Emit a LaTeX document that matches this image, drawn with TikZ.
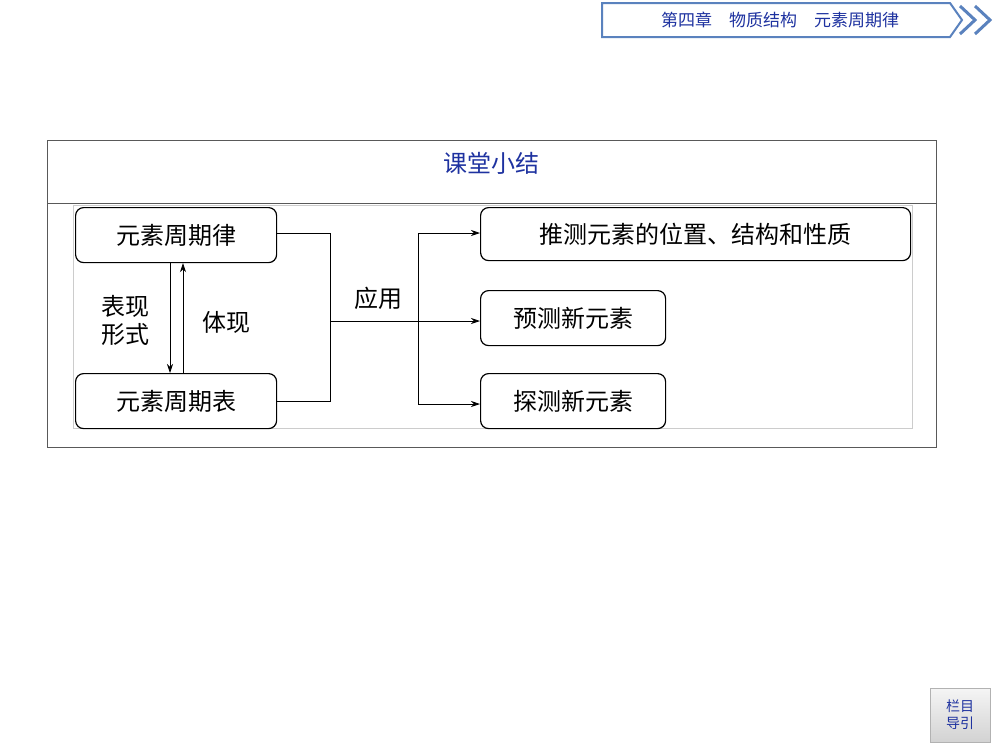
\documentclass[tikz,border=0pt]{standalone}
\usepackage{fontspec}
\newfontfamily\cjk{Noto Sans CJK SC}
\usetikzlibrary{arrows.meta}
\definecolor{hblue}{RGB}{30,50,160}
\definecolor{hborder}{RGB}{90,130,190}
\tikzset{
 rbox/.style={draw,very thick,rounded corners=8pt,anchor=north west,font=\cjk\fontsize{24}{28}\selectfont,inner sep=0pt},
 conn/.style={thick},
 arr/.style={thick,-{Stealth[length=9pt,width=6pt]}},
 lbl/.style={font=\cjk\fontsize{24}{28}\selectfont,align=center}
}
\begin{document}
\begin{tikzpicture}[x=1pt,y=-1pt]
\useasboundingbox (0,0) rectangle (1000,750);
% header
\fill[white] (0,0) rectangle (1000,750);
\draw[hborder,line width=2pt,fill=white] (602,3) -- (950,3) -- (962,20) -- (950,37) -- (602,37) -- cycle;
\node[font=\cjk\fontsize{17}{20}\selectfont,text=hblue] (hdr) at (780,20) {第四章\quad 物质结构\quad 元素周期律};
\draw[hborder,line width=3pt] (960,6) -- (975,20) -- (960,34);
\draw[hborder,line width=3pt] (975,6) -- (990,20) -- (975,34);
% frame
\draw[gray!70!black,thick] (47,140) rectangle (936,447);
\draw[gray!70!black,thick] (47,203) -- (936,203);
\node[font=\cjk\fontsize{24}{28}\selectfont,text=hblue] (title) at (491,163) {课堂小结};
\draw[gray!40] (73,205) rectangle (912,428);
% nodes
\node[rbox,minimum width=201pt,minimum height=55pt] (A) at (75,207) {元素周期律};
\node[rbox,minimum width=201pt,minimum height=55pt] (B) at (75,373) {元素周期表};
\node[rbox,minimum width=430pt,minimum height=53pt] (C) at (480,207) {推测元素的位置、结构和性质};
\node[rbox,minimum width=185pt,minimum height=55pt] (D) at (480,290) {预测新元素};
\node[rbox,minimum width=185pt,minimum height=55pt] (E) at (480,373) {探测新元素};
\coordinate (j1) at (330,233);
\coordinate (j2) at (330,401);
\coordinate (jm) at (330,321);
\coordinate (b1) at (418,233);
\coordinate (b2) at (418,404);
% connectors
\draw[arr] (A.south -| 170,0) -- (B.north -| 170,0);
\draw[arr] (B.north -| 183,0) -- (A.south -| 183,0);
\draw[conn] (A.east |- j1) -- (j1) -- (j2) -- (B.east |- j2);
\draw[arr] (jm) -- (D.west |- jm);
\draw[arr] (b1) -- (C.west |- b1);
\draw[conn] (b1) -- (b2);
\draw[arr] (b2) -- (E.west |- b2);
% labels
\node[lbl] (l1) at (125,320) {表现\\形式};
\node[lbl] (l2) at (226,322) {体现};
\node[lbl] (l3) at (378,298) {应用};
% button
\shade[top color=gray!8,bottom color=gray!35,draw=gray!60] (930,688) rectangle (990,742);
\node[font=\cjk\fontsize{14}{17}\selectfont,text=hblue,align=center] (btn) at (960,715) {栏目\\导引};
\end{tikzpicture}
\end{document}
